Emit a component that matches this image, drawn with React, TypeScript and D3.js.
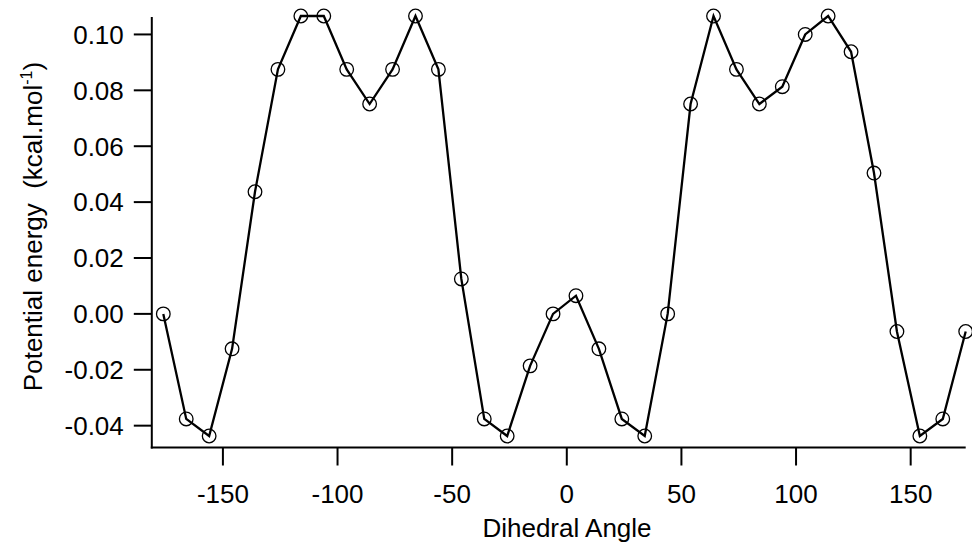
import React from "react";
import * as d3 from "d3";

const angles: number[] = [
  -176, -166, -156, -146, -136, -126, -116, -106, -96, -86, -76, -66, -56, -46, -36, -26, -16, -6,
  4, 14, 24, 34, 44, 54, 64, 74, 84, 94, 104, 114, 124, 134, 144, 154, 164, 174,
];
const energies: number[] = [
  0.0, -0.0376, -0.0437, -0.0125, 0.0437, 0.0875, 0.1066, 0.1066, 0.0875, 0.0751, 0.0875, 0.1066,
  0.0875, 0.0125, -0.0376, -0.0437, -0.0186, 0.0, 0.0065, -0.0125, -0.0376, -0.0437, 0.0, 0.0751,
  0.1066, 0.0875, 0.0751, 0.0813, 0.1, 0.1066, 0.0938, 0.0504, -0.0063, -0.0437, -0.0376, -0.0063,
];
const xTicks: number[] = [-150, -100, -50, 0, 50, 100, 150];
const yTicks: number[] = [-0.04, -0.02, 0.0, 0.02, 0.04, 0.06, 0.08, 0.1];
const xTitle = "Dihedral Angle";
const yTitle = "Potential energy  (kcal.mol";

const W = 972;
const H = 542;
const FONT = "'Liberation Sans', Arial, Helvetica, sans-serif";
const FS = 26;

export default function App() {
  const x = d3.scaleLinear().domain([-176, 174]).range([163.3, 965.7]);
  const y = d3.scaleLinear().domain([-0.0437, 0.1066]).range([436, 16]);
  const standoff = 11.5;
  const axX = x.range()[0] - standoff;
  const axY = y.range()[0] + standoff;
  const tickLen = 18;
  const pts = angles.map((a, i) => [a, energies[i]] as [number, number]);
  const line = d3
    .line<[number, number]>()
    .x((d) => x(d[0]))
    .y((d) => y(d[1]));

  return (
    <svg
      width={W}
      height={H}
      style={{ position: "absolute", left: 0, top: 0, background: "#fff" }}
      fontFamily={FONT}
    >
      <rect x={0} y={0} width={W} height={H} fill="#fff" />
      {/* axes */}
      <line x1={axX} x2={axX} y1={y.range()[1] + 1} y2={axY + 1} stroke="#000" strokeWidth={2} />
      <line x1={axX - 1} x2={x.range()[1]} y1={axY} y2={axY} stroke="#000" strokeWidth={2} />
      {yTicks.map((t) => (
        <g key={"y" + t}>
          <line x1={axX - tickLen} x2={axX} y1={y(t)} y2={y(t)} stroke="#000" strokeWidth={2} />
          <text
            x={axX - tickLen - 10}
            y={y(t)}
            dy="0.36em"
            textAnchor="end"
            fontSize={FS}
            fill="#000"
          >
            {d3.format(".2f")(t).replace("−", "-")}
          </text>
        </g>
      ))}
      {xTicks.map((t) => (
        <g key={"x" + t}>
          <line x1={x(t)} x2={x(t)} y1={axY} y2={axY + tickLen} stroke="#000" strokeWidth={2} />
          <text x={x(t)} y={502.5} textAnchor="middle" fontSize={FS} fill="#000">
            {String(t)}
          </text>
        </g>
      ))}
      <text x={567} y={537} textAnchor="middle" fontSize={FS} fill="#000">
        {xTitle}
      </text>
      <text
        transform="translate(42, 226.5) rotate(-90)"
        textAnchor="middle"
        fontSize={FS}
        fill="#000"
        style={{ whiteSpace: "pre" }}
      >
        {yTitle}
        <tspan dy={-10} fontSize={16}>
          -1
        </tspan>
        <tspan dy={10}>)</tspan>
      </text>
      {/* data */}
      <path d={line(pts) || ""} fill="none" stroke="#000" strokeWidth={2.3} strokeLinejoin="miter" />
      {pts.map((p, i) => (
        <circle key={i} cx={x(p[0])} cy={y(p[1])} r={6.8} fill="none" stroke="#000" strokeWidth={1.3} />
      ))}
    </svg>
  );
}
